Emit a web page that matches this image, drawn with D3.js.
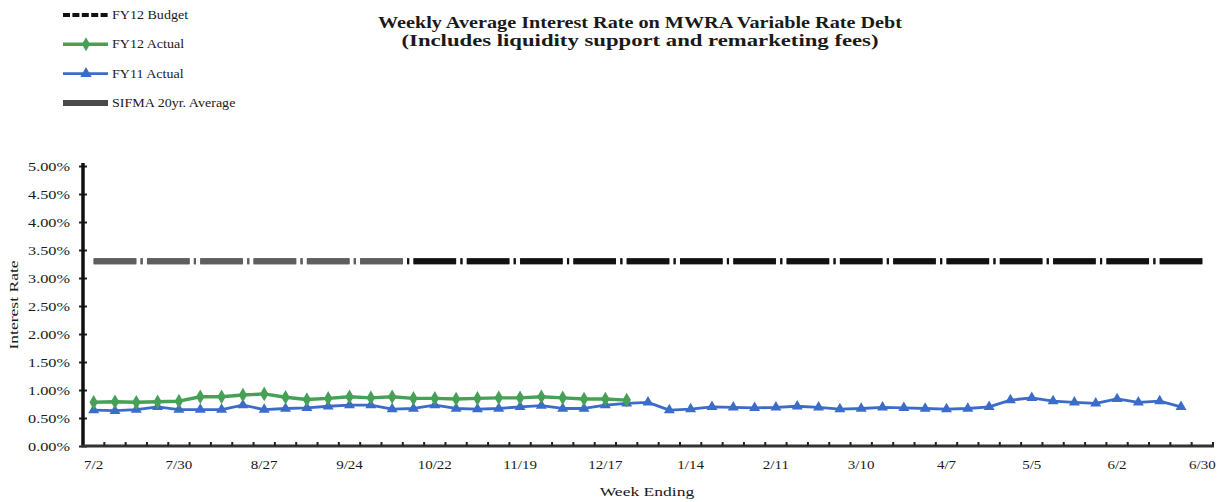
<!DOCTYPE html>
<html>
<head>
<meta charset="utf-8">
<script src="https://cdn.jsdelivr.net/npm/d3@7"></script>
<style>
  body { margin: 0; background: #fff; }
  svg { display: block; }
  text { font-family: "Liberation Serif", "Times New Roman", serif; fill: #1a1a1a; }
</style>
</head>
<body>
<svg id="chart" width="1220" height="502"></svg>
<script>
// Week-ending dates, July through June
const weeks = ["7/2","7/9","7/16","7/23","7/30","8/6","8/13","8/20","8/27","9/3","9/10","9/17",
  "9/24","10/1","10/8","10/15","10/22","10/29","11/5","11/12","11/19","11/26","12/3","12/10",
  "12/17","12/24","12/31","1/7","1/14","1/21","1/28","2/4","2/11","2/18","2/25","3/3","3/10",
  "3/17","3/24","3/31","4/7","4/14","4/21","4/28","5/5","5/12","5/19","5/26","6/2","6/9",
  "6/16","6/23","6/30"];

// Labelled weeks on the horizontal axis
const tickLabels = ["7/2","7/30","8/27","9/24","10/22","11/19","12/17","1/14","2/11","3/10","4/7","5/5","6/2","6/30"];

// Rates in percent
const fy12Budget = 3.30;
const sifmaAverage = 3.30;
const fy12Actual = [0.78,0.79,0.78,0.79,0.80,0.88,0.88,0.91,0.93,0.87,0.83,0.85,0.88,0.86,0.88,
  0.85,0.85,0.84,0.85,0.86,0.86,0.88,0.86,0.84,0.84,0.82];
const fy11Actual = [0.64,0.63,0.65,0.70,0.65,0.65,0.65,0.73,0.65,0.67,0.68,0.71,0.73,0.73,0.66,
  0.67,0.73,0.67,0.66,0.67,0.70,0.72,0.67,0.67,0.73,0.76,0.78,0.64,0.66,0.70,0.69,0.68,0.69,
  0.71,0.69,0.66,0.67,0.69,0.68,0.67,0.66,0.67,0.70,0.82,0.86,0.80,0.78,0.76,0.84,0.78,0.80,0.70];

const yTicks = [0,0.5,1,1.5,2,2.5,3,3.5,4,4.5,5];

const GREEN = "#46a055", BLUE = "#3b6cc9";

const svg = d3.select("#chart");

// Stretch a text element horizontally by a factor (wide serif look)
function widen(sel, k) {
  sel.each(function () {
    const len = this.getComputedTextLength();
    d3.select(this).attr("textLength", len * k).attr("lengthAdjust", "spacingAndGlyphs");
  });
}

const x = d3.scaleBand().domain(weeks).range([83, 1213]).padding(0);
const bw = x.bandwidth();
const cx = w => x(w) + bw / 2;
const y = d3.scaleLinear().domain([0, 5]).range([446, 166]);

// Title
const title = svg.append("g").attr("font-weight", "bold").attr("font-size", 16).attr("text-anchor", "middle");
title.append("text").attr("x", 640).attr("y", 28)
  .attr("textLength", 524).attr("lengthAdjust", "spacingAndGlyphs")
  .text("Weekly Average Interest Rate on MWRA Variable Rate Debt");
title.append("text").attr("x", 640).attr("y", 46)
  .attr("textLength", 477).attr("lengthAdjust", "spacingAndGlyphs")
  .text("(Includes liquidity support and remarketing fees)");

// Budget / SIFMA reference level
const defs = svg.append("defs");
const splitAt = (x("10/15") - 83) / (1213 - 83);
const grad = defs.append("linearGradient").attr("id", "budgetTone")
  .attr("gradientUnits", "userSpaceOnUse").attr("x1", 83).attr("x2", 1213).attr("y1", 0).attr("y2", 0);
[[0, "#5e5e5e"], [splitAt, "#5e5e5e"], [splitAt, "#111"], [1, "#111"]]
  .forEach(([o, c]) => grad.append("stop").attr("offset", o).attr("stop-color", c));

const dashPattern = [2.0 * bw, 0.2 * bw, 0.1 * bw, 0.2 * bw].join(",");
const levelLine = v => d3.line().x(cx).y(() => y(v))(weeks);

svg.append("path").attr("d", levelLine(sifmaAverage))
  .attr("fill", "none").attr("stroke", "#5e5e5e").attr("stroke-width", 6)
  .attr("stroke-dasharray", dashPattern);
svg.append("path").attr("d", levelLine(fy12Budget))
  .attr("fill", "none").attr("stroke", "url(#budgetTone)").attr("stroke-width", 6)
  .attr("stroke-dasharray", dashPattern);

// Actual series
function series(values, color, width, symbol, size) {
  const pts = values.map((v, i) => [cx(weeks[i]), y(v)]);
  svg.append("path").attr("d", d3.line()(pts))
    .attr("fill", "none").attr("stroke", color).attr("stroke-width", width).attr("stroke-linejoin", "round");
  svg.append("g").selectAll("path").data(pts).join("path")
    .attr("transform", d => `translate(${d[0]},${d[1]})`)
    .attr("d", d3.symbol().type(symbol).size(size)())
    .attr("fill", color);
}
series(fy11Actual, BLUE, 2.8, d3.symbolTriangle, 52);
series(fy12Actual, GREEN, 3.4, d3.symbolDiamond, 62);

// Y axis
const yAxis = svg.append("g").attr("transform", "translate(83,0)")
  .call(d3.axisLeft(y).tickValues(yTicks).tickSize(4).tickPadding(9)
    .tickFormat(d => d3.format(".2%")(d / 100)));
yAxis.select(".domain").remove();
yAxis.append("line").attr("x1", 0).attr("x2", 0).attr("y1", 163).attr("y2", 447)
  .attr("stroke", "#111").attr("stroke-width", 3.5);
yAxis.selectAll(".tick line").attr("x1", 4).attr("x2", -4).attr("stroke", "#222").attr("stroke-width", 2);
yAxis.selectAll(".tick text").attr("font-size", 12.5).attr("font-family", null).attr("fill", "#222");
widen(yAxis.selectAll(".tick text"), 1.3);

// X axis
const xAxis = svg.append("g").attr("transform", "translate(0,446)");
xAxis.append("line").attr("x1", 81).attr("x2", 1214).attr("stroke", "#333").attr("stroke-width", 3);
xAxis.selectAll("line.tk").data(weeks).join("line").attr("class", "tk")
  .attr("x1", w => x(w) + bw).attr("x2", w => x(w) + bw)
  .attr("y1", 0).attr("y2", -4).attr("stroke", "#222").attr("stroke-width", 2);
const xl = xAxis.selectAll("text").data(tickLabels).join("text")
  .attr("x", d => cx(d)).attr("y", 23).attr("text-anchor", "middle")
  .attr("font-size", 12.5).attr("fill", "#222").text(d => d);
widen(xl, 1.2);

// Axis titles
const xt = svg.append("text").attr("x", 647).attr("y", 496).attr("text-anchor", "middle")
  .attr("font-size", 13).attr("fill", "#222").text("Week Ending");
widen(xt, 1.35);
const yt = svg.append("text").attr("transform", "translate(18,305) rotate(-90)")
  .attr("text-anchor", "middle").attr("font-size", 13).attr("fill", "#222").text("Interest Rate");
widen(yt, 1.35);

// Legend
const legendItems = [
  { name: "FY12 Budget", kind: "budget" },
  { name: "FY12 Actual", kind: "fy12" },
  { name: "FY11 Actual", kind: "fy11" },
  { name: "SIFMA 20yr. Average", kind: "sifma" }
];
const lg = svg.append("g");
legendItems.forEach((it, i) => {
  const ly = 15 + i * 29.3;
  const g = lg.append("g").attr("transform", `translate(0,${ly})`);
  if (it.kind === "budget") {
    g.append("line").attr("x1", 63).attr("x2", 108).attr("stroke", "#111")
      .attr("stroke-width", 4).attr("stroke-dasharray", "7,2.4");
  } else if (it.kind === "sifma") {
    g.append("line").attr("x1", 63).attr("x2", 108).attr("stroke", "#4a4a4a").attr("stroke-width", 6);
  } else {
    const c = it.kind === "fy12" ? GREEN : BLUE;
    g.append("line").attr("x1", 63).attr("x2", 108).attr("stroke", c).attr("stroke-width", it.kind === "fy12" ? 3.4 : 2.8);
    g.append("path").attr("transform", "translate(86,0)")
      .attr("d", d3.symbol().type(it.kind === "fy12" ? d3.symbolDiamond : d3.symbolTriangle).size(56)())
      .attr("fill", c);
  }
  const t = g.append("text").attr("x", 112).attr("y", 4).attr("font-size", 12).attr("fill", "#222").text(it.name);
  widen(t, 1.17);
});
</script>
</body>
</html>
